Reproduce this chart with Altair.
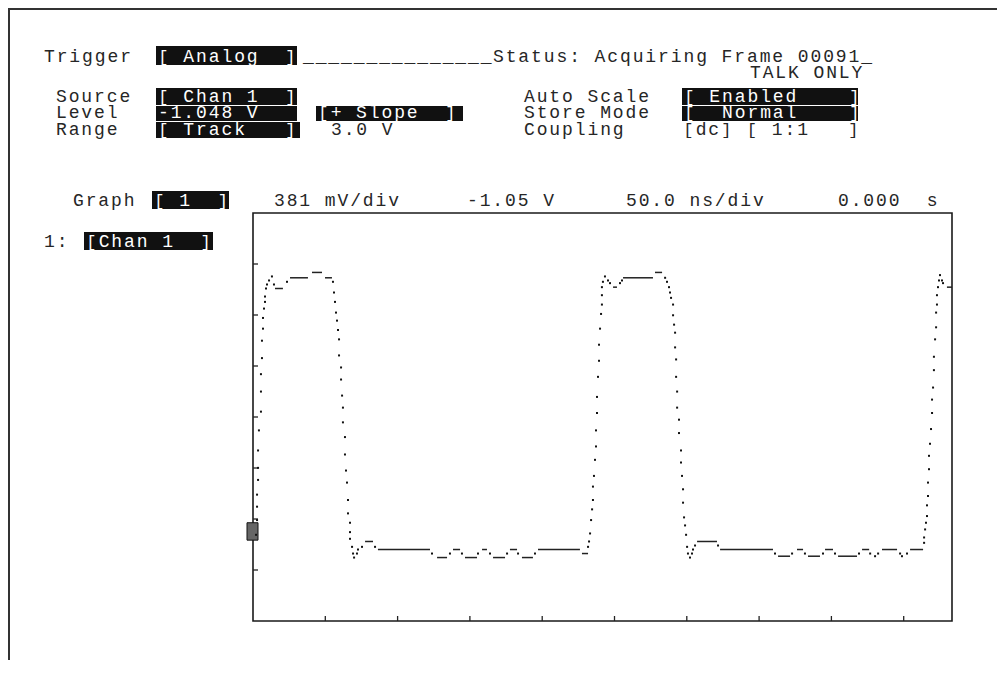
import altair as alt
import pandas as pd

# ---------------- waveform samples (time in ns, level in volts) ----------------
dot_t = [2.1, 2.8, 2.8, 2.8, 3.5, 3.5, 3.5, 4.1, 5.5, 5.5, 5.5, 6.2, 6.2, 6.9, 6.9, 7.6, 8.3, 8.3, 9.0, 9.7,
         11.1, 13.1, 14.5, 23.5, 55.3,
         56.0, 56.7, 57.4, 58.1, 58.8, 59.5, 59.5, 60.9, 60.9, 61.6, 62.2, 62.2, 63.6, 63.6, 64.3, 65.0, 65.7,
         65.7, 67.1, 67.1, 67.1, 68.5, 69.2, 69.9, 71.9, 72.6, 75.4, 84.4,
         123.8, 136.2, 144.5, 155.6, 163.9, 175.7, 183.3, 195.0,
         231.7, 232.4, 233.1, 233.8, 234.5, 235.1, 235.1, 235.8, 236.5, 237.2, 237.2, 237.9, 237.9, 238.6,
         239.3, 239.3, 240.0, 240.7, 241.3, 241.3, 241.3, 242.0, 243.4, 245.5, 246.9, 253.8, 255.2,
         285.0, 286.3, 287.7,
         288.4, 289.1, 290.5, 290.5, 291.2, 291.9, 291.9, 292.6, 292.6, 293.3, 293.3, 294.6, 294.6, 296.0,
         296.0, 296.7, 297.4, 297.4, 298.1, 298.8, 299.5, 300.2, 300.8, 302.2, 303.6, 304.3, 305.7, 321.6,
         361.0, 372.8, 381.7, 394.2, 402.5, 419.1, 426.8, 430.2, 432.3, 447.5, 448.8, 452.3,
         464.1, 464.1, 464.8, 465.4, 466.1, 466.1, 466.8, 466.8, 467.5, 467.5, 468.2, 468.9, 469.6, 469.6,
         470.3, 470.9, 470.9, 471.7, 472.4, 472.4, 473.0, 473.0, 473.7, 474.4, 475.1, 476.5, 477.2]
dot_v = [-1.93, -1.82, -1.72, -1.63, -1.52, -1.43, -1.30, -1.15, -1.01, -0.86, -0.73, -0.61, -0.48, -0.39,
         -0.31, -0.24, -0.19, -0.15, -0.09, -0.06,
         -0.03, 0.00, -0.06, -0.04, -0.04,
         -0.12, -0.19, -0.27, -0.33, -0.40, -0.47, -0.59, -0.68, -0.77, -0.89, -0.98, -1.09, -1.20, -1.33,
         -1.45, -1.54, -1.67, -1.77, -1.84, -1.91, -1.96, -2.02, -2.07, -2.10, -2.07, -2.04, -2.02, -2.02,
         -2.07, -2.07, -2.07, -2.07, -2.07, -2.07, -2.07, -2.07,
         -2.02, -1.98, -1.92, -1.82, -1.74, -1.67, -1.57, -1.49, -1.37, -1.27, -1.15, -1.02, -0.90, -0.75,
         -0.63, -0.51, -0.39, -0.28, -0.21, -0.14, -0.08, -0.04, 0.00, -0.03, -0.05, -0.05, -0.03,
         -0.01, -0.04, -0.08,
         -0.12, -0.16, -0.21, -0.29, -0.36, -0.42, -0.53, -0.62, -0.75, -0.86, -0.98, -1.07, -1.17, -1.30,
         -1.39, -1.49, -1.59, -1.69, -1.80, -1.86, -1.93, -2.02, -2.07, -2.10, -2.07, -2.04, -2.01, -2.01,
         -2.07, -2.07, -2.07, -2.07, -2.07, -2.07, -2.07, -2.09, -2.07, -2.07, -2.09, -2.07,
         -1.99, -1.95, -1.89, -1.84, -1.79, -1.71, -1.64, -1.54, -1.44, -1.34, -1.25, -1.14, -1.02, -0.92,
         -0.83, -0.70, -0.60, -0.47, -0.38, -0.27, -0.21, -0.14, -0.08, -0.03, 0.01, -0.03, -0.05]

# flat runs of consecutive samples at one level
run_t0 = [15.2, 25.6, 40.8, 49.8, 77.5, 86.4, 127.3, 138.3, 146.6, 158.4, 166.0, 177.7, 186.0, 197.1, 227.5,
          249.0, 255.9, 278.0, 307.1, 323.0, 363.1, 376.2, 383.8, 395.6, 404.6, 421.2, 435.0, 454.4, 479.9]
run_t1 = [20.7, 38.0, 47.7, 54.6, 83.0, 122.4, 134.2, 143.2, 154.9, 161.8, 174.3, 182.6, 193.6, 226.1, 231.7,
          251.7, 276.6, 282.9, 320.9, 359.6, 371.4, 380.4, 392.1, 401.1, 417.7, 426.1, 445.4, 463.4, 483.4]
run_v = [-0.09, -0.01, 0.03, -0.01, -1.98, -2.04, -2.10, -2.04, -2.10, -2.04, -2.10, -2.04, -2.10, -2.04, -2.07,
         -0.08, -0.01, 0.03, -1.98, -2.04, -2.09, -2.04, -2.09, -2.04, -2.09, -2.04, -2.04, -2.04, -0.08]

# screen extents: 50 ns/div, 381 mV/div around -1.05 V
time_span = [0.0, 483.4]
volt_span = [-2.574, 0.474]
time_ticks = [50, 100, 150, 200, 250, 300, 350, 400, 450]
volt_ticks = [-2.193, -1.812, -1.431, -1.05, -0.669, -0.288, 0.093]
marker_span = [-1.84, -1.97]

# ---------------- screen texts ----------------
plain_texts = ["Trigger", "_______________", "Status: Acquiring Frame 00091_", "TALK ONLY",
               "Source", "Auto Scale", "Level", "Store Mode", "Range", "3.0 V", "Coupling", "[dc] [ 1:1   ]",
               "Graph", "381 mV/div", "-1.05 V", "50.0 ns/div", "0.000  s", "1:"]
boxed_texts = ["[ Analog  ]", "[ Chan 1  ]", "[ Enabled    ]", "-1.048 V", "[+ Slope  ]", "[  Normal    ]",
               "[ Track   ]", "[ 1  ]", "[Chan 1  ]"]

# layout (screen pixel positions): left edge of first cell, baseline
plain_pos = [(43, 62), (302, 62), (492, 62), (749, 78),
             (55, 102), (523, 102), (55, 118), (523, 118), (55, 135), (330, 135), (523, 135), (682, 135),
             (72, 206), (273, 206), (466, 206), (625, 206), (837, 206), (43, 247)]
# box: x1, x2, y1, y2 ; text baseline = y2 - 3
boxed_pos = [(156, 297, 46, 65), (156, 297, 88, 105), (682, 858, 88, 105), (156, 297, 106, 121),
             (316, 463, 106, 121), (682, 858, 106, 121), (156, 300, 122, 138), (152, 229, 191, 209),
             (84, 213, 232, 250)]

FONT = "Liberation Mono"
FS = 18          # glyph size
FS_BRACKET = 17  # brackets a little smaller so they stay inside the boxes
PITCH = 12.7     # character cell width
INK = "#262626"
OFF = 8          # page margin

one = pd.DataFrame({"k": [0]})

rows = []


def add_text(s, x0, base, colour):
    for i, ch in enumerate(s):
        if ch == " ":
            continue
        rows.append({"ch": ch, "px": x0 - OFF + (i + 0.5) * PITCH, "py": base - OFF,
                     "fs": FS_BRACKET if ch in "[]" else FS, "col": colour})


for txt, (x, y) in zip(plain_texts, plain_pos):
    add_text(txt, x, y, INK)
box_rows = []
for txt, (x1, x2, y1, y2) in zip(boxed_texts, boxed_pos):
    box_rows.append({"x1": x1 - OFF, "x2": x2 - OFF, "y1": y1 - OFF, "y2": y2 - OFF})
    add_text(txt, x1 + 1, y2 - 3, "#ffffff")

chars = pd.DataFrame(rows)
boxes = pd.DataFrame(box_rows)

IDX = alt.Scale(domain=[0, 989], range=[0, 989], nice=False, zero=False)
IDY = alt.Scale(domain=[0, 657], range=[0, 657], nice=False, zero=False)

layers = []

# outer screen border
layers.append(alt.Chart(one).mark_rule(color="#333", strokeWidth=2).encode(
    x=alt.value(0), x2=alt.value(997), y=alt.value(1)))
layers.append(alt.Chart(one).mark_rule(color="#333", strokeWidth=2).encode(
    x=alt.value(1), y=alt.value(0), y2=alt.value(652)))

layers.append(alt.Chart(boxes).mark_rect(color="#111111").encode(
    x=alt.X("x1:Q", scale=IDX, axis=None), x2="x2:Q",
    y=alt.Y("y1:Q", scale=IDY, axis=None), y2="y2:Q"))

layers.append(alt.Chart(chars).mark_text(align="center", baseline="alphabetic", font=FONT).encode(
    x=alt.X("px:Q", scale=IDX, axis=None),
    y=alt.Y("py:Q", scale=IDY, axis=None),
    text="ch:N",
    size=alt.Size("fs:Q", scale=None, legend=None),
    color=alt.Color("col:N", scale=None, legend=None)))

xs = alt.Scale(domain=time_span, range=[253 - OFF, 952 - OFF], nice=False, zero=False)
ys = alt.Scale(domain=volt_span, range=[621 - OFF, 213 - OFF], nice=False, zero=False)

frame = pd.DataFrame({"t0": [time_span[0]], "t1": [time_span[1]], "v0": [volt_span[0]], "v1": [volt_span[1]]})
layers.append(alt.Chart(frame).mark_rect(fillOpacity=0, stroke="#1a1a1a", strokeWidth=1.6).encode(
    x=alt.X("t0:Q", scale=xs, axis=None), x2="t1:Q",
    y=alt.Y("v0:Q", scale=ys, axis=None), y2="v1:Q"))

tt = pd.DataFrame({"t": time_ticks})
layers.append(alt.Chart(tt).mark_rule(color="#222", strokeWidth=1.3).encode(
    x=alt.X("t:Q", scale=xs, axis=None), y=alt.value(621 - OFF), y2=alt.value(616 - OFF)))

vt = pd.DataFrame({"v": volt_ticks})
layers.append(alt.Chart(vt).mark_rule(color="#222", strokeWidth=1.3).encode(
    y=alt.Y("v:Q", scale=ys, axis=None), x=alt.value(253 - OFF), x2=alt.value(258 - OFF)))

mk = pd.DataFrame({"v0": [marker_span[0]], "v1": [marker_span[1]]})
layers.append(alt.Chart(mk).mark_rect(fill="#666666", stroke="#111", strokeWidth=1).encode(
    y=alt.Y("v0:Q", scale=ys, axis=None), y2="v1:Q", x=alt.value(247 - OFF), x2=alt.value(258 - OFF)))

runs = pd.DataFrame({"t0": run_t0, "t1": run_t1, "v": run_v})
layers.append(alt.Chart(runs).mark_rule(color="#222", strokeWidth=1.5).encode(
    x=alt.X("t0:Q", scale=xs, axis=None), x2="t1:Q", y=alt.Y("v:Q", scale=ys, axis=None)))

dots = pd.DataFrame({"t": dot_t, "v": dot_v})
layers.append(alt.Chart(dots).mark_square(size=4, color="#111", opacity=1).encode(
    x=alt.X("t:Q", scale=xs, axis=None), y=alt.Y("v:Q", scale=ys, axis=None)))

chart = alt.layer(*layers).resolve_scale(
    x="independent", y="independent"
).properties(
    width=989, height=657, padding=0, autosize="none", background="white"
).configure_view(stroke=None)

chart.save("out.html", embed_options={"renderer": "svg", "actions": False})
